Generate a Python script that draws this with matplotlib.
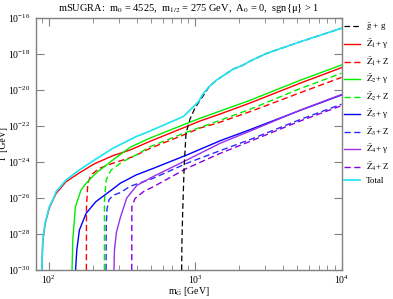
import numpy as np
import matplotlib
matplotlib.use("Agg")
import matplotlib.pyplot as plt
from matplotlib.ticker import FixedLocator, LogLocator, NullLocator, LogFormatterSciNotation

plt.rcParams['font.family'] = ['Liberation Serif', 'DejaVu Serif']
plt.rcParams['mathtext.fontset'] = 'stix'

#curves: mass in GeV, log10 of the width in GeV
gg_m = [809, 812, 822, 841, 866, 924, 1000, 1140, 1250, 1407, 1600, 1827, 2100, 2377, 3090, 5222, 10000]
gg_logG = [-30, -28.5, -26.8, -24.3, -22.4, -21.6, -20.98, -20.3, -19.8, -19.44, -19.14, -18.83, -18.64, -18.39, -17.96, -17.32, -16.57]

z1g_m = [89.6, 91, 94.3, 100.9, 106.5, 112.2, 131, 162, 205, 274, 360, 492, 832, 1081, 1407, 2377, 5222, 10000]
z1g_logG = [-30, -28.4, -27.45, -26.55, -26.15, -25.75, -25.1, -24.6, -24.1, -23.65, -23.33, -22.85, -22.1, -21.72, -21.4, -20.72, -19.62, -18.76]

z1z_m = [180.7, 181, 184.8, 194.5, 221.8, 274, 375, 492, 832, 1081, 1407, 2377, 5222, 10000]
z1z_logG = [-30, -26.5, -25.18, -24.72, -24.35, -24.07, -23.71, -23.24, -22.5, -22.11, -21.85, -21.2, -20.15, -19.3]

z2g_m = [144.2, 145.9, 152, 166, 180, 210, 274, 360, 492, 832, 1081, 2377, 5222, 10000]
z2g_logG = [-30, -28.33, -26.5, -25.56, -25.18, -24.62, -23.89, -23.18, -22.67, -21.93, -21.57, -20.57, -19.46, -18.61]

z2z_m = [239.9, 240.2, 246.5, 266.6, 320.4, 395, 492, 832, 1407, 2377, 5222, 10000]
z2z_logG = [-30, -26.11, -25.0, -24.44, -23.98, -23.61, -23.15, -22.41, -21.75, -21.07, -19.92, -19.07]

z3g_m = [152.5, 155.4, 161.9, 180, 210, 274, 308, 395, 519, 878, 1482, 2377, 5222, 10000]
z3g_logG = [-30, -28.89, -27.78, -26.85, -26.2, -25.5, -25.18, -24.72, -24.35, -23.61, -22.82, -22.2, -21.13, -20.28]

z3z_m = [246.5, 247, 250, 258, 275, 308, 360, 519, 878, 1482, 2377, 5222, 10000]
z3z_logG = [-30, -27.5, -26.6, -26.1, -25.85, -25.7, -25.35, -24.9, -24.07, -23.37, -22.75, -21.64, -20.79]

z4g_m = [279, 281, 290, 308, 341, 400, 519, 878, 1482, 2377, 5222, 10000]
z4g_logG = [-30, -28.9, -27.9, -27.1, -26.0, -25.3, -24.8, -23.89, -22.96, -22.28, -21.12, -20.25]

z4z_m = [369, 369.5, 389, 443, 519, 878, 1482, 2377, 5222, 10000]
z4z_logG = [-30, -26.48, -26.02, -25.65, -25.37, -24.35, -23.52, -22.85, -21.72, -20.87]

tot_m = [89.6, 91, 94.3, 100.9, 106.5, 112.2, 131.3, 161.9, 205, 274, 395, 492, 832, 949, 1054, 1140, 1250, 1407, 1600, 1827, 2100, 2377, 3090, 5222, 10000]
tot_logG = [-30, -28.33, -27.41, -26.48, -26.11, -25.65, -25.0, -24.44, -23.89, -23.24, -22.59, -22.28, -21.47, -21.02, -20.65, -20.18, -19.8, -19.44, -19.14, -18.83, -18.64, -18.39, -17.96, -17.32, -16.57]

labels = [r'$\tilde{\rm g}$ + g',
          r'$\tilde{\rm Z}_1$+ γ', r'$\tilde{\rm Z}_1$+ Z',
          r'$\tilde{\rm Z}_2$+ γ', r'$\tilde{\rm Z}_2$+ Z',
          r'$\tilde{\rm Z}_3$+ γ', r'$\tilde{\rm Z}_3$+ Z',
          r'$\tilde{\rm Z}_4$+ γ', r'$\tilde{\rm Z}_4$+ Z',
          'Total']

fig = plt.figure(figsize=(3.93, 2.99), dpi=100)
ax = fig.add_axes([36/393, 1-270/299, 305.5/393, 252/299])

dash = (0, (4.5, 2.5))
curves = [
    (gg_m, gg_logG, 'black', dash, 3, 0.9),
    (z1g_m, z1g_logG, '#ff0000', '-', 2, 1.0),
    (z1z_m, z1z_logG, '#ff0000', dash, 2, 1.0),
    (z2g_m, z2g_logG, '#00ee00', '-', 2, 1.0),
    (z2z_m, z2z_logG, '#00ee00', dash, 2, 1.0),
    (z3g_m, z3g_logG, '#0000ff', '-', 2, 1.0),
    (z3z_m, z3z_logG, '#2b2bff', dash, 2, 1.0),
    (z4g_m, z4g_logG, '#9a30e8', '-', 2, 1.0),
    (z4z_m, z4z_logG, '#8a00e0', dash, 2, 1.0),
    (tot_m, tot_logG, '#22e4f2', '-', 4, 1.25),
]
for (m, lg, c, ls, z, w), lab in zip(curves, labels):
    ax.plot(m, 10.0**np.array(lg), color=c, ls=ls, lw=w, zorder=z, label=lab)

ax.set_xscale('log')
ax.set_yscale('log')
ax.set_xlim(81.8, 1e4)
ax.set_ylim(1e-30, 1e-16)

ax.yaxis.set_major_locator(FixedLocator([10.0**k for k in range(-30, -15, 2)]))
ax.yaxis.set_major_formatter(LogFormatterSciNotation())
ax.yaxis.set_minor_locator(NullLocator())
ax.xaxis.set_major_locator(LogLocator(base=10))
ax.xaxis.set_minor_locator(LogLocator(base=10, subs=np.arange(2, 10)))

grey = '#808080'
for s in ax.spines.values():
    s.set_color(grey)
    s.set_linewidth(1.0)
ax.tick_params(which='both', direction='in', top=True, right=True, color=grey, labelsize=7, pad=4)
ax.tick_params(axis='x', pad=2.5)
ax.tick_params(which='major', length=6)
ax.tick_params(which='minor', length=3.5)

ax.set_xlabel(r'm$_{\tilde{\rm G}}$ [GeV]', fontsize=7, labelpad=-0.5)
ax.set_ylabel('Γ [GeV]', fontsize=7, labelpad=0)
ax.set_title(r'mSUGRA:  m$_0$ = 4525,  m$_{1/2}$ = 275 GeV,  A$_0$ = 0,  sgn{μ} > 1', fontsize=7.5, pad=5)

ax.legend(loc='upper left', bbox_to_anchor=(1.0, 1.0), frameon=False, fontsize=6.5,
          handlelength=1.8, handletextpad=0.6, labelspacing=0.42, borderaxespad=0.1,
          borderpad=0.2)

fig.savefig('out.png', dpi=100)
